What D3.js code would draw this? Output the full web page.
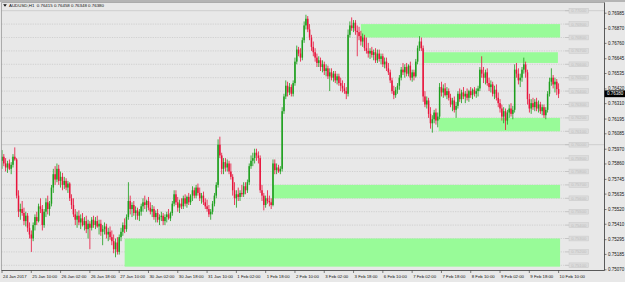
<!DOCTYPE html>
<html><head><meta charset="utf-8">
<script src="https://cdn.jsdelivr.net/npm/d3@7"></script>
<style>html,body{margin:0;padding:0;background:#e8e8e8;overflow:hidden}svg{display:block}</style>
</head><body><svg id="c" width="625" height="282"></svg>
<script>
const title = "AUDUSD,H1  0.76415 0.76458 0.76348 0.76380";
const open = [
0.7588,0.7591,0.7586,0.7583,0.7586,0.7582,0.7585,0.7591,0.7589,0.7562,
0.7550,0.7552,0.7549,0.7543,0.7547,0.7538,0.7533,0.7530,0.7540,0.7546,
0.7543,0.7554,0.7552,0.7540,0.7550,0.7557,0.7552,0.7556,0.7568,0.7578,
0.7574,0.7582,0.7573,0.7576,0.7570,0.7573,0.7568,0.7571,0.7560,0.7555,
0.7548,0.7544,0.7547,0.7542,0.7545,0.7540,0.7543,0.7537,0.7541,0.7538,
0.7544,0.7540,0.7543,0.7539,0.7541,0.7535,0.7537,0.7539,0.7533,0.7535,
0.7531,0.7528,0.7522,0.7527,0.7520,0.7531,0.7535,0.7540,0.7537,0.7546,
0.7558,0.7552,0.7555,0.7549,0.7551,0.7547,0.7550,0.7554,0.7557,0.7555,
0.7558,0.7553,0.7550,0.7552,0.7546,0.7549,0.7544,0.7546,0.7547,0.7543,
0.7546,0.7548,0.7545,0.7549,0.7556,0.7563,0.7557,0.7553,0.7556,0.7554,
0.7560,0.7556,0.7561,0.7557,0.7562,0.7566,0.7562,0.7568,0.7564,0.7560,
0.7562,0.7557,0.7554,0.7552,0.7548,0.7550,0.7556,0.7562,0.7570,0.7600,
0.7592,0.7582,0.7587,0.7583,0.7586,0.7580,0.7576,0.7566,0.7560,0.7563,
0.7561,0.7564,0.7563,0.7569,0.7566,0.7572,0.7584,0.7588,0.7590,0.7594,
0.7592,0.7590,0.7566,0.7562,0.7555,0.7560,0.7558,0.7557,0.7555,0.7586,
0.7581,0.7583,0.7580,0.7582,0.7625,0.7636,0.7644,0.7639,0.7643,0.7638,
0.7646,0.7662,0.7671,0.7668,0.7665,0.7678,0.7689,0.7694,0.7686,0.7680,
0.7673,0.7669,0.7665,0.7661,0.7663,0.7658,0.7660,0.7655,0.7657,0.7651,
0.7654,0.7650,0.7653,0.7648,0.7651,0.7646,0.7644,0.7642,0.7640,0.7638,
0.7682,0.7689,0.7687,0.7691,0.7685,0.7684,0.7681,0.7677,0.7680,0.7672,
0.7670,0.7668,0.7670,0.7667,0.7669,0.7663,0.7668,0.7664,0.7666,0.7660,
0.7662,0.7657,0.7654,0.7648,0.7640,0.7637,0.7641,0.7644,0.7650,0.7656,
0.7654,0.7658,0.7653,0.7659,0.7650,0.7654,0.7651,0.7662,0.7672,0.7677,
0.7672,0.7636,0.7630,0.7633,0.7623,0.7616,0.7619,0.7624,0.7618,0.7621,
0.7643,0.7639,0.7642,0.7637,0.7640,0.7635,0.7630,0.7633,0.7626,0.7629,
0.7638,0.7634,0.7639,0.7636,0.7638,0.7635,0.7640,0.7637,0.7641,0.7638,
0.7640,0.7642,0.7656,0.7653,0.7650,0.7654,0.7646,0.7643,0.7645,0.7638,
0.7641,0.7635,0.7631,0.7627,0.7621,0.7625,0.7618,0.7624,0.7627,0.7623,
0.7626,0.7656,0.7653,0.7648,0.7650,0.7656,0.7660,0.7654,0.7634,0.7627,
0.7631,0.7628,0.7632,0.7627,0.7630,0.7625,0.7628,0.7622,0.7626,0.7638,
0.7647,0.7650,0.7645,0.7647,0.76415];
const high = [
0.7596,0.7593,0.7590,0.7588,0.7589,0.7587,0.7593,0.7598,0.7590,0.7566,
0.7556,0.7558,0.7553,0.7550,0.7549,0.7542,0.7536,0.7542,0.7548,0.7550,
0.7556,0.7560,0.7555,0.7552,0.7560,0.7562,0.7558,0.7570,0.7582,0.7584,
0.7586,0.7585,0.7580,0.7579,0.7576,0.7575,0.7573,0.7572,0.7563,0.7560,
0.7552,0.7550,0.7551,0.7548,0.7549,0.7546,0.7547,0.7544,0.7543,0.7546,
0.7547,0.7546,0.7547,0.7544,0.7544,0.7540,0.7542,0.7541,0.7538,0.7539,
0.7536,0.7533,0.7530,0.7531,0.7533,0.7538,0.7542,0.7545,0.7548,0.7572,
0.7562,0.7557,0.7558,0.7554,0.7553,0.7552,0.7556,0.7560,0.7562,0.7559,
0.7561,0.7557,0.7555,0.7554,0.7551,0.7552,0.7548,0.7550,0.7549,0.7548,
0.7550,0.7552,0.7550,0.7558,0.7566,0.7566,0.7561,0.7559,0.7560,0.7562,
0.7563,0.7562,0.7564,0.7563,0.7569,0.7568,0.7570,0.7571,0.7568,0.7564,
0.7565,0.7560,0.7559,0.7555,0.7552,0.7558,0.7564,0.7572,0.7604,0.7606,
0.7594,0.7590,0.7590,0.7589,0.7588,0.7586,0.7578,0.7572,0.7566,0.7568,
0.7566,0.7570,0.7572,0.7572,0.7574,0.7586,0.7592,0.7594,0.7597,0.7597,
0.7595,0.7592,0.7570,0.7564,0.7562,0.7566,0.7562,0.7560,0.7589,0.7589,
0.7586,0.7585,0.7584,0.7628,0.7638,0.7648,0.7647,0.7646,0.7645,0.7648,
0.7665,0.7674,0.7673,0.7672,0.7680,0.7692,0.7697,0.7696,0.7690,0.7682,
0.7677,0.7672,0.7668,0.7666,0.7665,0.7663,0.7662,0.7660,0.7659,0.7657,
0.7657,0.7655,0.7655,0.7653,0.7653,0.7650,0.7648,0.7646,0.7643,0.7686,
0.7692,0.7695,0.7693,0.7693,0.7689,0.7688,0.7685,0.7683,0.7682,0.7680,
0.7676,0.7672,0.7673,0.7671,0.7672,0.7671,0.7671,0.7668,0.7668,0.7665,
0.7665,0.7661,0.7656,0.7650,0.7644,0.7643,0.7646,0.7652,0.7658,0.7661,
0.7660,0.7661,0.7660,0.7662,0.7656,0.7656,0.7664,0.7674,0.7681,0.7680,
0.7674,0.7640,0.7636,0.7635,0.7628,0.7622,0.7626,0.7627,0.7624,0.7646,
0.7647,0.7645,0.7646,0.7643,0.7642,0.7638,0.7635,0.7636,0.7632,0.7640,
0.7642,0.7641,0.7643,0.7640,0.7642,0.7641,0.7643,0.7642,0.7643,0.7642,
0.7644,0.7658,0.7666,0.7658,0.7656,0.7657,0.7650,0.7648,0.7647,0.7644,
0.7645,0.7639,0.7634,0.7630,0.7628,0.7627,0.7626,0.7630,0.7631,0.7629,
0.7660,0.7661,0.7657,0.7653,0.7658,0.7665,0.7662,0.7656,0.7638,0.7634,
0.7635,0.7634,0.7635,0.7633,0.7632,0.7630,0.7630,0.7628,0.7640,0.7650,
0.7657,0.7652,0.7650,0.7649,0.76458];
const low = [
0.7582,0.7584,0.7580,0.7579,0.7581,0.7578,0.7583,0.7588,0.7560,0.7546,
0.7544,0.7547,0.7540,0.7539,0.7535,0.7530,0.7520,0.7528,0.7536,0.7540,
0.7542,0.7549,0.7536,0.7538,0.7546,0.7548,0.7547,0.7554,0.7564,0.7570,
0.7572,0.7570,0.7568,0.7566,0.7567,0.7566,0.7564,0.7558,0.7552,0.7546,
0.7540,0.7538,0.7540,0.7537,0.7539,0.7536,0.7534,0.7530,0.7522,0.7536,
0.7538,0.7537,0.7538,0.7533,0.7532,0.7525,0.7533,0.7530,0.7528,0.7529,
0.7525,0.7519,0.7516,0.7518,0.7518,0.7528,0.7532,0.7534,0.7535,0.7544,
0.7548,0.7546,0.7547,0.7544,0.7544,0.7543,0.7547,0.7550,0.7552,0.7550,
0.7551,0.7548,0.7546,0.7544,0.7542,0.7542,0.7540,0.7543,0.7540,0.7540,
0.7542,0.7544,0.7543,0.7547,0.7554,0.7555,0.7550,0.7549,0.7552,0.7552,
0.7554,0.7553,0.7555,0.7555,0.7558,0.7560,0.7560,0.7562,0.7558,0.7556,
0.7555,0.7552,0.7550,0.7546,0.7544,0.7548,0.7554,0.7560,0.7568,0.7590,
0.7578,0.7578,0.7580,0.7580,0.7578,0.7574,0.7562,0.7555,0.7553,0.7558,
0.7558,0.7561,0.7561,0.7563,0.7564,0.7570,0.7582,0.7584,0.7586,0.7588,
0.7586,0.7564,0.7558,0.7551,0.7553,0.7556,0.7554,0.7552,0.7554,0.7578,
0.7578,0.7579,0.7578,0.7580,0.7623,0.7634,0.7636,0.7637,0.7636,0.7636,
0.7644,0.7660,0.7666,0.7662,0.7663,0.7676,0.7686,0.7684,0.7678,0.7670,
0.7666,0.7662,0.7658,0.7658,0.7655,0.7654,0.7652,0.7651,0.7649,0.7640,
0.7648,0.7647,0.7646,0.7645,0.7644,0.7640,0.7639,0.7638,0.7634,0.7636,
0.7680,0.7685,0.7684,0.7682,0.7666,0.7678,0.7674,0.7673,0.7670,0.7668,
0.7665,0.7664,0.7665,0.7663,0.7661,0.7661,0.7662,0.7660,0.7658,0.7657,
0.7655,0.7652,0.7646,0.7638,0.7634,0.7635,0.7638,0.7641,0.7648,0.7652,
0.7650,0.7651,0.7651,0.7648,0.7647,0.7648,0.7650,0.7660,0.7670,0.7670,
0.7632,0.7628,0.7627,0.7620,0.7612,0.7609,0.7616,0.7615,0.7613,0.7619,
0.7636,0.7635,0.7636,0.7634,0.7633,0.7628,0.7625,0.7624,0.7620,0.7627,
0.7632,0.7631,0.7634,0.7631,0.7633,0.7632,0.7635,0.7634,0.7636,0.7635,
0.7636,0.7640,0.7650,0.7646,0.7645,0.7644,0.7640,0.7639,0.7636,0.7634,
0.7633,0.7628,0.7624,0.7618,0.7616,0.7611,0.7615,0.7620,0.7621,0.7619,
0.7624,0.7650,0.7645,0.7643,0.7647,0.7653,0.7650,0.7630,0.7624,0.7623,
0.7626,0.7625,0.7625,0.7624,0.7623,0.7622,0.7620,0.7619,0.7624,0.7636,
0.7644,0.7642,0.7639,0.7637,0.76348];
const close = [
0.7591,0.7586,0.7583,0.7586,0.7582,0.7585,0.7591,0.7589,0.7562,0.7550,
0.7552,0.7549,0.7543,0.7547,0.7538,0.7533,0.7530,0.7540,0.7546,0.7543,
0.7554,0.7552,0.7540,0.7550,0.7557,0.7552,0.7556,0.7568,0.7578,0.7574,
0.7582,0.7573,0.7576,0.7570,0.7573,0.7568,0.7571,0.7560,0.7555,0.7548,
0.7544,0.7547,0.7542,0.7545,0.7540,0.7543,0.7537,0.7541,0.7538,0.7544,
0.7540,0.7543,0.7539,0.7541,0.7535,0.7537,0.7539,0.7533,0.7535,0.7531,
0.7528,0.7522,0.7527,0.7520,0.7531,0.7535,0.7540,0.7537,0.7546,0.7558,
0.7552,0.7555,0.7549,0.7551,0.7547,0.7550,0.7554,0.7557,0.7555,0.7558,
0.7553,0.7550,0.7552,0.7546,0.7549,0.7544,0.7546,0.7547,0.7543,0.7546,
0.7548,0.7545,0.7549,0.7556,0.7563,0.7557,0.7553,0.7556,0.7554,0.7560,
0.7556,0.7561,0.7557,0.7562,0.7566,0.7562,0.7568,0.7564,0.7560,0.7562,
0.7557,0.7554,0.7552,0.7548,0.7550,0.7556,0.7562,0.7570,0.7600,0.7592,
0.7582,0.7587,0.7583,0.7586,0.7580,0.7576,0.7566,0.7560,0.7563,0.7561,
0.7564,0.7563,0.7569,0.7566,0.7572,0.7584,0.7588,0.7590,0.7594,0.7592,
0.7590,0.7566,0.7562,0.7555,0.7560,0.7558,0.7557,0.7555,0.7586,0.7581,
0.7583,0.7580,0.7582,0.7625,0.7636,0.7644,0.7639,0.7643,0.7638,0.7646,
0.7662,0.7671,0.7668,0.7665,0.7678,0.7689,0.7694,0.7686,0.7680,0.7673,
0.7669,0.7665,0.7661,0.7663,0.7658,0.7660,0.7655,0.7657,0.7651,0.7654,
0.7650,0.7653,0.7648,0.7651,0.7646,0.7644,0.7642,0.7640,0.7638,0.7682,
0.7689,0.7687,0.7691,0.7685,0.7684,0.7681,0.7677,0.7680,0.7672,0.7670,
0.7668,0.7670,0.7667,0.7669,0.7663,0.7668,0.7664,0.7666,0.7660,0.7662,
0.7657,0.7654,0.7648,0.7640,0.7637,0.7641,0.7644,0.7650,0.7656,0.7654,
0.7658,0.7653,0.7659,0.7650,0.7654,0.7651,0.7662,0.7672,0.7677,0.7672,
0.7636,0.7630,0.7633,0.7623,0.7616,0.7619,0.7624,0.7618,0.7621,0.7643,
0.7639,0.7642,0.7637,0.7640,0.7635,0.7630,0.7633,0.7626,0.7629,0.7638,
0.7634,0.7639,0.7636,0.7638,0.7635,0.7640,0.7637,0.7641,0.7638,0.7640,
0.7642,0.7656,0.7653,0.7650,0.7654,0.7646,0.7643,0.7645,0.7638,0.7641,
0.7635,0.7631,0.7627,0.7621,0.7625,0.7618,0.7624,0.7627,0.7623,0.7626,
0.7656,0.7653,0.7648,0.7650,0.7656,0.7660,0.7654,0.7634,0.7627,0.7631,
0.7628,0.7632,0.7627,0.7630,0.7625,0.7628,0.7622,0.7626,0.7638,0.7647,
0.7650,0.7645,0.7647,0.76415,0.7638];
const timeLabels = ["24 Jan 2017","25 Jan 10:00","26 Jan 02:00","26 Jan 18:00","27 Jan 10:00","30 Jan 02:00","30 Jan 18:00","31 Jan 10:00","1 Feb 02:00","1 Feb 18:00","2 Feb 10:00","3 Feb 02:00","3 Feb 18:00","6 Feb 10:00","7 Feb 02:00","7 Feb 18:00","8 Feb 10:00","9 Feb 02:00","9 Feb 18:00","10 Feb 10:00"];
const priceTicks = [0.76985,0.76870,0.76760,0.76645,0.76535,0.76420,0.76310,0.76195,0.76085,0.75970,0.75860,0.75745,0.75635,0.75520,0.75410,0.75295,0.75185,0.75070];
const levels = [0.7700,0.7690,0.7680,0.7670,0.7660,0.7650,0.7640,0.7630,0.7620,0.7610,0.7600,0.7590,0.7580,0.7570,0.7560,0.7550,0.7540,0.7530,0.7520,0.7510];
const solidLevels = [0.7700,0.7600];
const zoneFrom = [196, 230, 238.5, 148, 67];
const zoneTo   = [304.8, 303.6, 304.8, 304.8, 304.8];
const zoneTop  = [0.7690, 0.7669, 0.7620, 0.7570, 0.7530];
const zoneBot  = [0.7680, 0.7661, 0.7610, 0.7560, 0.7509];
const lastPrice = 0.76380;

const svg = d3.select("#c");
const FONT = "'Liberation Sans', Arial, sans-serif";
const x = d3.scaleLinear().domain([0, 304]).range([2, 2 + 304*1.831]);
const y = d3.scaleLinear().domain([0.7510, 0.7700]).range([265.3, 10.7]);
const L = 1.5, R = 604.5, T = 2.5, B = 270.5;

svg.append("rect").attr("width",625).attr("height",282).attr("fill","#e8e8e8");

// level lines
svg.append("g").selectAll("line").data(levels).join("line")
  .attr("x1", L).attr("x2", d => solidLevels.includes(d) ? R : 565)
  .attr("y1", d => y(d)).attr("y2", d => y(d))
  .attr("stroke", d => solidLevels.includes(d) ? "#c6c6c6" : "#c9c9c9")
  .attr("stroke-width", 0.8)
  .attr("stroke-dasharray", d => solidLevels.includes(d) ? null : "1.2,1.2");
svg.append("g").selectAll("line").data(levels).join("line")
  .attr("x1", 565).attr("x2", 569).attr("y1", d => y(d)).attr("y2", d => y(d))
  .attr("stroke", "#bdbdbd").attr("stroke-width", 0.8);

// zones
svg.append("g").selectAll("rect").data(zoneTop).join("rect")
  .attr("x", (d,i) => x(zoneFrom[i])).attr("width", (d,i) => x(zoneTo[i]) - x(zoneFrom[i]))
  .attr("y", d => y(d)).attr("height", (d,i) => y(zoneBot[i]) - y(d))
  .attr("fill", "#98fb98");

// level tags
const tags = svg.append("g").selectAll("g").data(levels).join("g")
  .attr("transform", d => `translate(569,${y(d)})`);
tags.append("rect").attr("x",0).attr("y",-2.4).attr("width",19.5).attr("height",4.8)
  .attr("fill","#dcdcdc").attr("stroke","#c8c8c8").attr("stroke-width",0.5);
tags.append("text").attr("x",9.75).attr("y",1.5).attr("text-anchor","middle")
  .attr("font-family",FONT).attr("font-size","4.2px").attr("fill","#c0c0c0")
  .text(d => d3.format(".5f")(d));

// candles
const idx = d3.range(close.length);
const bull = "#1c9f1c", bear = "#e8143c";
const cg = svg.append("g");
cg.selectAll("rect.w").data(idx).join("rect").attr("class","w")
  .attr("x", i => x(i) - 0.4).attr("width", 0.8)
  .attr("y", i => y(high[i])).attr("height", i => Math.max(0.5, y(low[i]) - y(high[i])))
  .attr("fill", i => close[i] >= open[i] ? bull : bear);
cg.selectAll("rect.b").data(idx).join("rect").attr("class","b")
  .attr("x", i => x(i) - 0.75).attr("width", 1.5)
  .attr("y", i => y(Math.max(open[i], close[i])))
  .attr("height", i => Math.max(0.7, Math.abs(y(open[i]) - y(close[i]))))
  .attr("fill", i => close[i] >= open[i] ? bull : bear);

// frame
svg.append("line").attr("x1",0).attr("x2",625).attr("y1",1).attr("y2",1).attr("stroke","#b4b4b4").attr("stroke-width",2);
svg.append("line").attr("x1",L).attr("x2",R).attr("y1",T).attr("y2",T).attr("stroke","#9a9a9a").attr("stroke-width",0.8);
svg.append("line").attr("x1",L).attr("x2",L).attr("y1",T).attr("y2",B).attr("stroke","#9a9a9a").attr("stroke-width",0.8);

// right price axis
const yAxis = d3.axisRight(y).tickValues(priceTicks).tickFormat(d3.format(".5f")).tickSize(2).tickPadding(1.5);
const ya = svg.append("g").attr("transform",`translate(${R},0)`).call(yAxis);
ya.select(".domain").attr("stroke","#333").attr("stroke-width",0.8).attr("d",`M0,${T}V${B}`);
ya.selectAll(".tick line").attr("stroke","#333").attr("stroke-width",0.6);
ya.selectAll(".tick text").attr("font-family",FONT).attr("font-size","4.5px").attr("fill","#111");

// bottom time axis
const tickIdx = timeLabels.map((d,i) => i*16);
svg.append("line").attr("x1",L).attr("x2",R).attr("y1",B).attr("y2",B).attr("stroke","#333").attr("stroke-width",0.8);
const xt = svg.append("g").selectAll("g").data(tickIdx).join("g").attr("transform", d => `translate(${x(d)},${B})`);
xt.append("line").attr("y1",0).attr("y2",2.5).attr("stroke","#333").attr("stroke-width",0.6);
xt.append("text").attr("x",1).attr("y",7).attr("font-family",FONT).attr("font-size","4.3px").attr("fill","#111")
  .text((d,i) => timeLabels[i]);

// current price tag
svg.append("rect").attr("x",R).attr("y",y(lastPrice)-3.4).attr("width",625-R).attr("height",6.8).attr("fill","#000");
svg.append("text").attr("x",R+2.4).attr("y",y(lastPrice)+1.6).attr("font-family",FONT).attr("font-size","4.5px").attr("fill","#fff").text(d3.format(".5f")(lastPrice));

// title
svg.append("path").attr("d","M3.2,4.2 L6.8,4.2 L5,6.8 Z").attr("fill","#111");
svg.append("text").attr("x",9).attr("y",7.2).attr("font-family",FONT).attr("font-size","4.4px").attr("fill","#111").attr("xml:space","preserve").text(title);
</script>
</body></html>
